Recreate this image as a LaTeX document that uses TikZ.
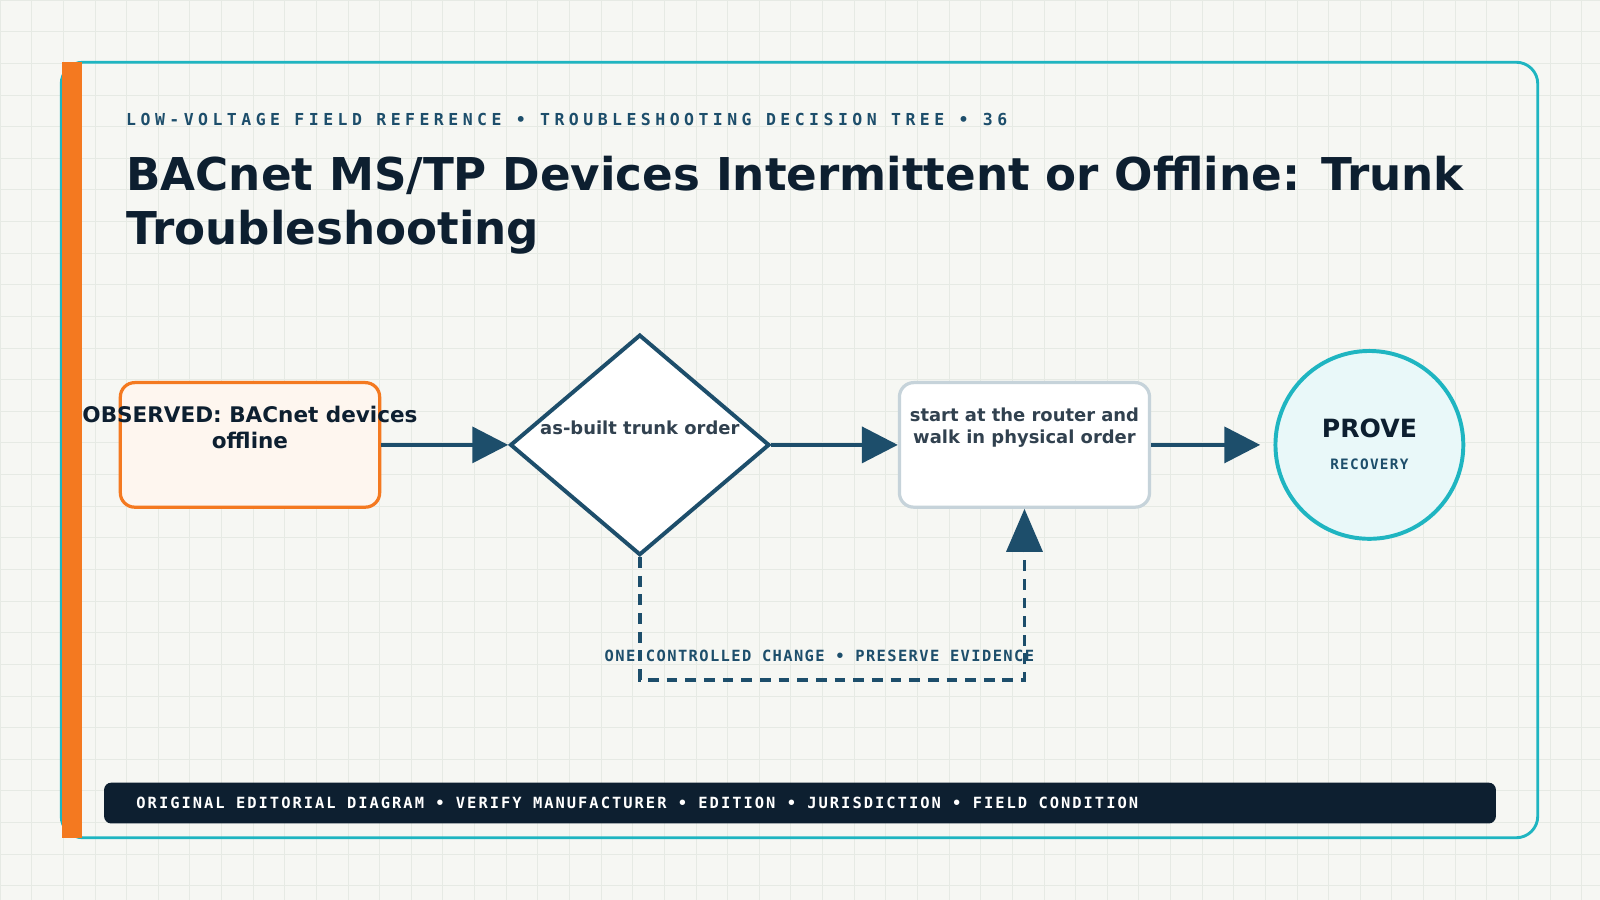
\documentclass[tikz,border=0pt]{standalone}
\usepackage{fontspec}
\setmainfont{DejaVu Sans}
\newfontfamily\monohead[LetterSpace=27]{DejaVu Sans Mono}
\newfontfamily\monofoot[LetterSpace=13]{DejaVu Sans Mono}
\newfontfamily\monolab[LetterSpace=9]{DejaVu Sans Mono}
\usetikzlibrary{shapes.geometric,arrows.meta,positioning}
\definecolor{ink}{HTML}{0D1F30}
\definecolor{navy}{HTML}{1D4E6B}
\definecolor{teal}{HTML}{1FB5C1}
\definecolor{orng}{HTML}{F47920}
\definecolor{paper}{HTML}{F6F7F3}
\definecolor{gridc}{HTML}{E6EAE4}
\tikzset{
  flow/.style={line width=1.1pt, draw=navy, -{Triangle[length=10pt,width=10pt]}},
  loop/.style={line width=1.1pt, draw=navy, dash pattern=on 3pt off 2.2pt},
  box/.style={rounded corners=4pt, line width=0.9pt, minimum width=25.4mm, minimum height=12.2mm, inner sep=0pt}
}
\begin{document}
\begin{tikzpicture}[x=0.01cm,y=-0.01cm]
\useasboundingbox (0,0) rectangle (1568,882);
\fill[paper] (0,0) rectangle (1568,882);
\foreach \i in {0,31,...,1568} \draw[gridc,line width=0.2pt] (\i,0) -- (\i,882);
\foreach \j in {0,31,...,882} \draw[gridc,line width=0.2pt] (0,\j) -- (1568,\j);
% frame
\draw[teal,line width=0.8pt,rounded corners=6pt] (60,61) rectangle (1507,821);
\fill[orng] (61,61) rectangle (80,821);
% heading
\node[anchor=west,inner sep=0pt,text=navy,font=\monohead\bfseries\fontsize{4.6pt}{5pt}\selectfont] (head) at (123,117)
  {LOW-VOLTAGE FIELD REFERENCE • TROUBLESHOOTING DECISION TREE • 36};
\node[anchor=north west,inner sep=0pt,align=left,text=ink,font=\bfseries\fontsize{12.6pt}{15.2pt}\selectfont] (title) at (123,152)
  {BACnet MS/TP Devices Intermittent or Offline: Trunk\\Troubleshooting};
% flow
\node[box,draw=orng,fill=orng!7] (obs) at (245,436) {};
\node[align=center,text=ink,font=\bfseries\fontsize{6pt}{7.4pt}\selectfont] (obst) at (245,419) {OBSERVED: BACnet devices\\offline};
\node[diamond,draw=navy,fill=white,line width=1.1pt,minimum width=25.4mm,minimum height=21.6mm,inner sep=0pt] (dec) at (627,436) {};
\node[text=ink!85,font=\bfseries\fontsize{5pt}{6pt}\selectfont] (dect) at (627,419) {as-built trunk order};
\node[box,draw=navy!25,fill=white,minimum width=24.5mm] (walk) at (1004,436) {};
\node[align=center,text=ink!85,font=\bfseries\fontsize{5pt}{6.2pt}\selectfont] (walkt) at (1004,419) {start at the router and\\walk in physical order};
\node[circle,draw=teal,fill=teal!10,line width=1.1pt,minimum size=18.4mm,inner sep=0pt] (prove) at (1342,436) {};
\node[text=ink,font=\bfseries\fontsize{7pt}{8pt}\selectfont] (provet) at (1342,420) {PROVE};
\node[text=navy,font=\monolab\bfseries\fontsize{4pt}{5pt}\selectfont] (rec) at (1342,455) {RECOVERY};
\coordinate (pin) at (1235,436);
\draw[flow] (obs) -- (dec);
\draw[flow] (dec) -- (walk);
\draw[flow] (walk) -- (pin);
\coordinate (c1) at (627,666);
\coordinate (c2) at (1004,666);
\coordinate (up) at (1004,540);
\draw[loop] (dec.south) -- (c1) -- (c2) -- (up);
\draw[flow,-{Triangle[length=12pt,width=10pt]}] (up) -- (walk.south);
\node[text=navy,font=\monolab\bfseries\fontsize{4.3pt}{5pt}\selectfont] (lab) at (803,643) {ONE CONTROLLED CHANGE • PRESERVE EVIDENCE};
% footer
\fill[ink,rounded corners=2pt] (102,767) rectangle (1466,807);
\node[anchor=west,inner sep=0pt,text=white,font=\monofoot\bfseries\fontsize{4.3pt}{5pt}\selectfont] (foot) at (133,787)
  {ORIGINAL EDITORIAL DIAGRAM • VERIFY MANUFACTURER • EDITION • JURISDICTION • FIELD CONDITION};
\end{tikzpicture}
\end{document}
